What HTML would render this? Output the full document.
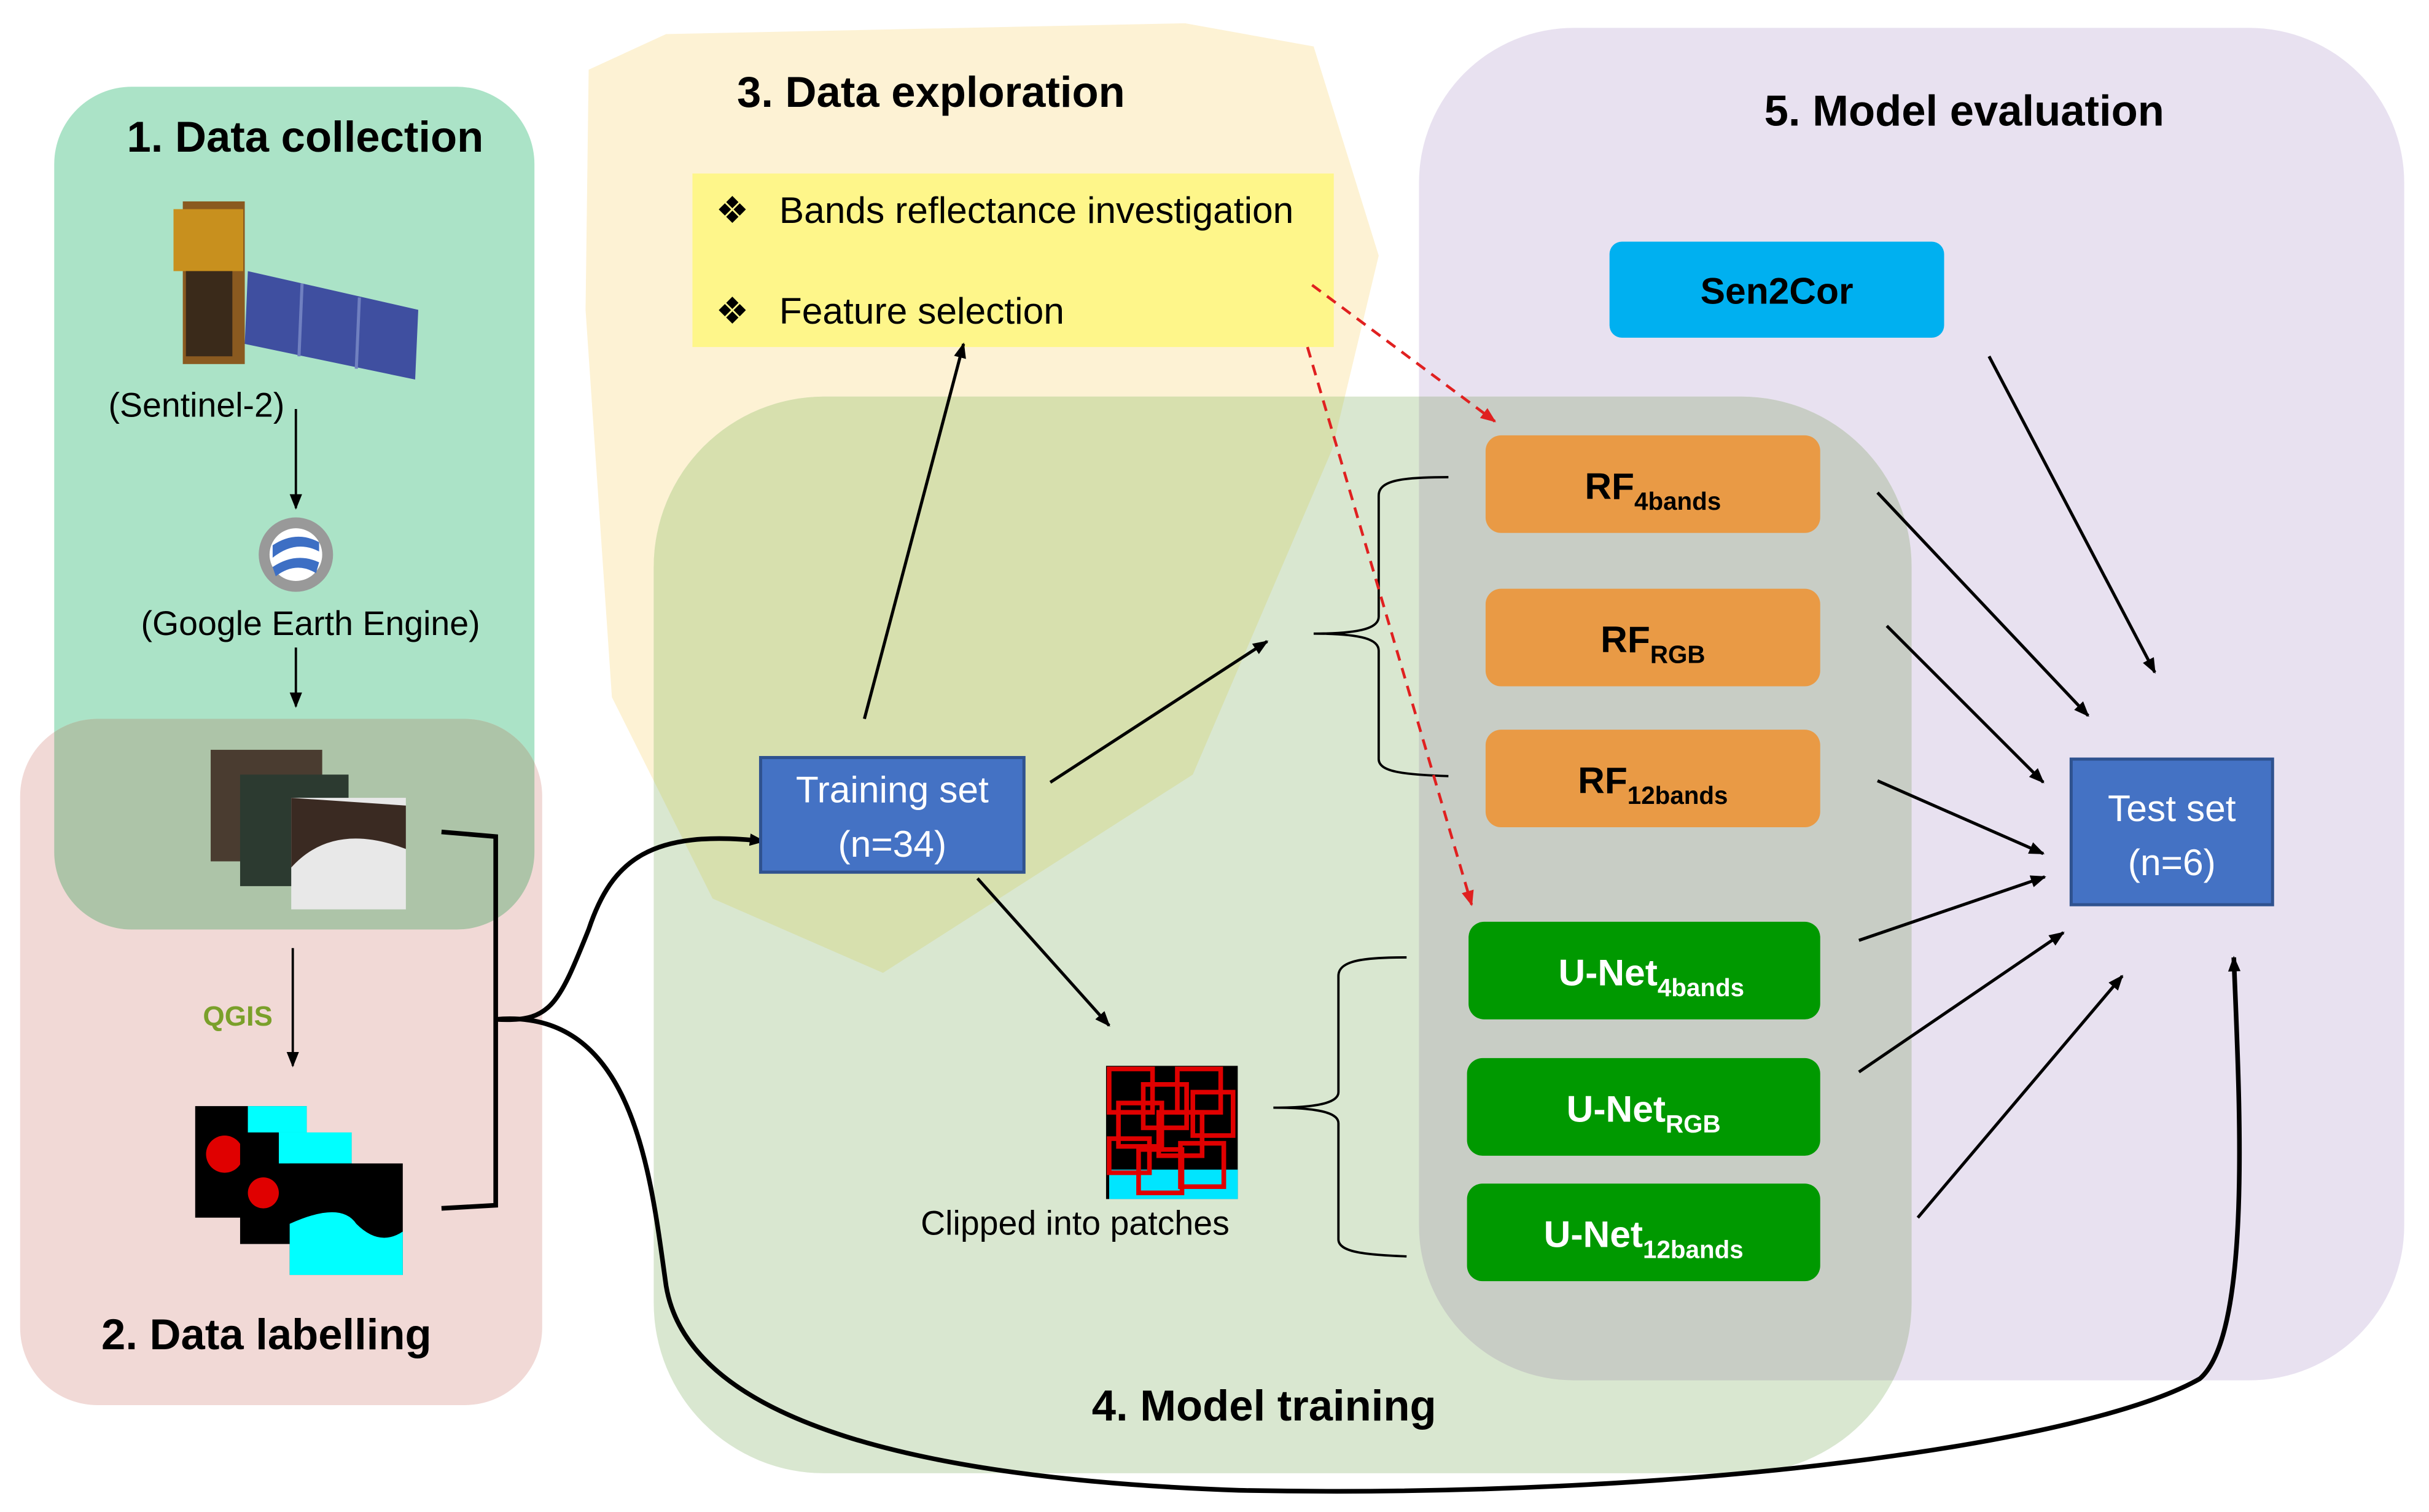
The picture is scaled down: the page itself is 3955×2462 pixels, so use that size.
<!DOCTYPE html>
<html><head><meta charset="utf-8"><style>
html,body{margin:0;padding:0;background:#fff}
svg{display:block}
text{font-family:"Liberation Sans",sans-serif}
</style></head><body>
<svg width="3955" height="2462" viewBox="0 0 1568 976" preserveAspectRatio="none" xmlns="http://www.w3.org/2000/svg">
<defs>
<marker id="ah" markerWidth="10" markerHeight="10" refX="9" refY="5" orient="auto" markerUnits="userSpaceOnUse"><path d="M0,1 L10,5 L0,9 z" fill="#000"/></marker>
<marker id="ahr" markerWidth="10" markerHeight="10" refX="9" refY="5" orient="auto" markerUnits="userSpaceOnUse"><path d="M0,1 L10,5 L0,9 z" fill="#e02020"/></marker>
<clipPath id="cP"><rect x="916" y="18" width="636" height="873" rx="100"/></clipPath>
<clipPath id="cG"><rect x="422" y="256" width="812" height="695" rx="110"/></clipPath>
<clipPath id="c1"><rect x="35" y="56" width="310" height="544" rx="50"/></clipPath>
</defs>
<!-- regions -->
<rect x="35" y="56" width="310" height="544" rx="50" fill="#abe3c7"/>
<rect x="13" y="464" width="337" height="443" rx="50" fill="#f1d9d6"/>
<rect x="13" y="464" width="337" height="443" rx="50" fill="#adc4a8" clip-path="url(#c1)"/>
<polygon id="yp" points="380,45 430,22 765,15 848,30 890,165 860,290 770,500 570,628 460,580 395,450 378,200" fill="#fdf2d4"/>
<rect x="916" y="18" width="636" height="873" rx="100" fill="#e8e1f0"/>
<rect x="422" y="256" width="812" height="695" rx="110" fill="#d9e7d0"/>
<rect x="422" y="256" width="812" height="695" rx="110" fill="#c8cdc5" clip-path="url(#cP)"/>
<polygon points="380,45 430,22 765,15 848,30 890,165 860,290 770,500 570,628 460,580 395,450 378,200" fill="#d7e0ae" clip-path="url(#cG)"/>

<!-- titles -->
<g font-weight="bold" font-size="28" fill="#000" text-anchor="middle">
<text x="197" y="98">1. Data collection</text>
<text x="601" y="69">3. Data exploration</text>
<text x="1268" y="81">5. Model evaluation</text>
<text x="172" y="871">2. Data labelling</text>
<text x="816" y="917">4. Model training</text>
</g>

<!-- yellow box -->
<rect x="447" y="112" width="414" height="112" fill="#fef68a"/>
<g font-size="24" fill="#000">
<text x="462" y="144">❖</text><text x="503" y="144">Bands reflectance investigation</text>
<text x="462" y="209">❖</text><text x="503" y="209">Feature selection</text>
</g>

<!-- satellite -->
<g>
<rect x="118" y="130" width="40" height="105" fill="#8a5a20"/>
<rect x="112" y="135" width="45" height="40" fill="#c8901e"/>
<rect x="120" y="175" width="30" height="55" fill="#3a2a1a"/>
<polygon points="160,175 270,200 268,245 158,222" fill="#3f4fa0"/>
<line x1="195" y1="183" x2="193" y2="230" stroke="#7080c0" stroke-width="2"/>
<line x1="232" y1="192" x2="230" y2="238" stroke="#7080c0" stroke-width="2"/>
</g>
<g font-size="22" fill="#000">
<text x="70" y="269">(Sentinel-2)</text>
<text x="91" y="410">(Google Earth Engine)</text>
</g>
<!-- GEE icon -->
<circle cx="191" cy="358" r="24" fill="#999"/>
<circle cx="191" cy="358" r="17" fill="#fff"/>
<path d="M176,352 Q191,342 206,350 L206,356 Q191,348 176,360 z M176,366 Q191,356 206,363 L204,370 Q191,362 178,372 z" fill="#3d6fc4"/>
<line x1="191" y1="264" x2="191" y2="328" stroke="#000" stroke-width="1.5" marker-end="url(#ah)"/>
<line x1="191" y1="418" x2="191" y2="456" stroke="#000" stroke-width="1.5" marker-end="url(#ah)"/>

<!-- images stack -->
<rect x="136" y="484" width="72" height="72" fill="#4a3c30"/>
<rect x="155" y="500" width="70" height="72" fill="#2c3a30"/>
<rect x="188" y="515" width="74" height="72" fill="#e8e8e8"/>
<path d="M188,560 Q215,530 262,548 L262,520 L188,515 z" fill="#3a2a22"/>
<text x="131" y="662" font-size="18" font-weight="bold" fill="#7aa02a">QGIS</text>
<line x1="189" y1="612" x2="189" y2="688" stroke="#000" stroke-width="1.5" marker-end="url(#ah)"/>
<!-- label images -->
<rect x="126" y="714" width="72" height="72" fill="#000"/>
<rect x="160" y="714" width="38" height="30" fill="#00ffff"/>
<circle cx="145" cy="745" r="12" fill="#e00000"/>
<rect x="155" y="731" width="72" height="72" fill="#000"/>
<rect x="180" y="731" width="47" height="20" fill="#00ffff"/>
<circle cx="170" cy="770" r="10" fill="#e00000"/>
<rect x="187" y="751" width="73" height="72" fill="#000"/>
<path d="M187,790 Q220,775 230,790 Q245,805 260,795 L260,823 L187,823 z" fill="#00ffff"/>

<!-- bracket & curves -->
<path d="M285,537 L320,540 L320,778 L285,780" fill="none" stroke="#000" stroke-width="3"/>
<path d="M320,658 C355,660 360,650 380,600 C395,555 420,535 493,543" fill="none" stroke="#000" stroke-width="3" marker-end="url(#ah)"/>
<path d="M320,658 C410,650 420,760 430,830 C445,920 600,955 800,962 C1100,968 1350,930 1420,890 C1455,860 1445,700 1442,618" fill="none" stroke="#000" stroke-width="3" marker-end="url(#ah)"/>

<!-- training set -->
<rect x="491" y="489" width="170" height="74" fill="#4472c4" stroke="#2f528f" stroke-width="2"/>
<g font-size="24" fill="#fff" text-anchor="middle">
<text x="576" y="518">Training set</text><text x="576" y="553">(n=34)</text>
<text x="1402" y="530">Test set</text><text x="1402" y="565">(n=6)</text>
</g>
<rect x="1337" y="490" width="130" height="94" fill="#4472c4" stroke="#2f528f" stroke-width="2" fill-opacity="1"/>
<g font-size="24" fill="#fff" text-anchor="middle">
<text x="1402" y="530">Test set</text><text x="1402" y="565">(n=6)</text>
</g>
<line x1="558" y1="464" x2="622" y2="222" stroke="#000" stroke-width="2" marker-end="url(#ah)"/>
<line x1="678" y1="505" x2="818" y2="414" stroke="#000" stroke-width="2" marker-end="url(#ah)"/>
<line x1="631" y1="567" x2="716" y2="662" stroke="#000" stroke-width="2" marker-end="url(#ah)"/>

<!-- patches -->
<rect x="714" y="688" width="85" height="86" fill="#000"/>
<rect x="716" y="755" width="83" height="19" fill="#00e5ff"/>
<g fill="none" stroke="#e00000" stroke-width="3">
<rect x="716" y="690" width="28" height="28"/><rect x="738" y="700" width="28" height="28"/><rect x="760" y="690" width="28" height="28"/>
<rect x="722" y="712" width="28" height="28"/><rect x="748" y="718" width="28" height="28"/><rect x="770" y="705" width="26" height="28"/>
<rect x="716" y="735" width="26" height="22"/><rect x="735" y="742" width="28" height="28"/><rect x="762" y="738" width="28" height="28"/>
</g>
<text x="694" y="797" font-size="22" fill="#000" text-anchor="middle">Clipped into patches</text>

<!-- braces -->
<path d="M935,308 C905,308 890,310 890,320 L890,398 C890,405 880,409 848,409 C880,409 890,413 890,420 L890,490 C890,498 905,500 935,501" fill="none" stroke="#000" stroke-width="1.5"/>
<path d="M908,618 C880,618 864,620 864,630 L864,705 C864,712 850,715 822,715 C850,715 864,718 864,725 L864,800 C864,808 880,810 908,811" fill="none" stroke="#000" stroke-width="1.5"/>

<!-- model boxes -->
<g fill="#e99a45">
<rect x="959" y="281" width="216" height="63" rx="10"/>
<rect x="959" y="380" width="216" height="63" rx="10"/>
<rect x="959" y="471" width="216" height="63" rx="10"/>
</g>
<g fill="#009900">
<rect x="948" y="595" width="227" height="63" rx="10"/>
<rect x="947" y="683" width="228" height="63" rx="10"/>
<rect x="947" y="764" width="228" height="63" rx="10"/>
</g>
<rect x="1039" y="156" width="216" height="62" rx="8" fill="#00b0f0"/>
<g font-weight="bold" font-size="24" text-anchor="middle">
<text x="1147" y="196" fill="#000">Sen2Cor</text>
<text x="1067" y="322" fill="#000">RF<tspan font-size="16" dy="7">4bands</tspan></text>
<text x="1067" y="421" fill="#000">RF<tspan font-size="16" dy="7">RGB</tspan></text>
<text x="1067" y="512" fill="#000">RF<tspan font-size="16" dy="7">12bands</tspan></text>
<text x="1066" y="636" fill="#fff">U-Net<tspan font-size="16" dy="7">4bands</tspan></text>
<text x="1061" y="724" fill="#fff">U-Net<tspan font-size="16" dy="7">RGB</tspan></text>
<text x="1061" y="805" fill="#fff">U-Net<tspan font-size="16" dy="7">12bands</tspan></text>
</g>

<!-- red dashed -->
<line x1="847" y1="184" x2="965" y2="272" stroke="#e02020" stroke-width="1.8" stroke-dasharray="7,5" marker-end="url(#ahr)"/>
<line x1="844" y1="224" x2="950" y2="584" stroke="#e02020" stroke-width="1.8" stroke-dasharray="7,5" marker-end="url(#ahr)"/>

<!-- arrows to test set -->
<g stroke="#000" stroke-width="2" marker-end="url(#ah)">
<line x1="1284" y1="230" x2="1391" y2="434"/>
<line x1="1212" y1="318" x2="1348" y2="462"/>
<line x1="1218" y1="404" x2="1319" y2="505"/>
<line x1="1212" y1="504" x2="1319" y2="551"/>
<line x1="1200" y1="607" x2="1320" y2="566"/>
<line x1="1200" y1="692" x2="1332" y2="602"/>
<line x1="1238" y1="786" x2="1370" y2="630"/>
</g>
</svg>
</body></html>
